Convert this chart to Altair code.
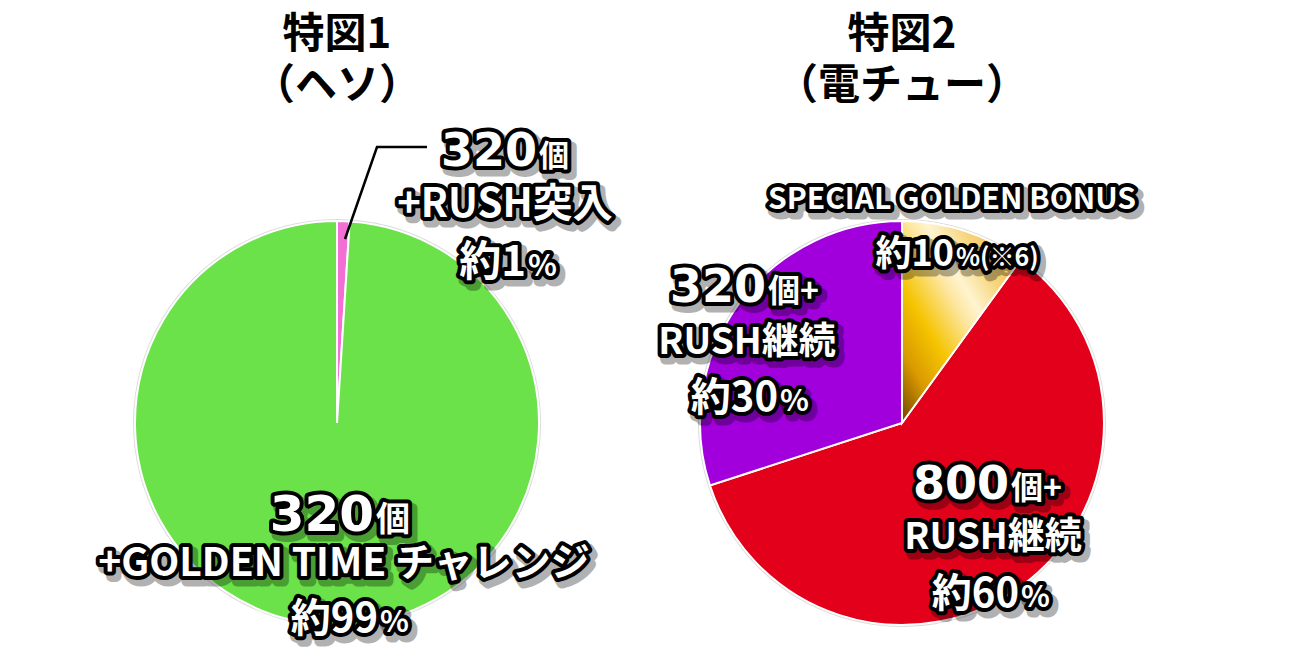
import math
import altair as alt
import pandas as pd

# ---------------- data ----------------
left_title = ["特図1", "（ヘソ）"]
left_categories = ["320個+RUSH突入", "320個+GOLDEN TIME チャレンジ"]
left_values = [1, 99]
left_colors = ["#f26fd3", "#6be249"]

right_title = ["特図2", "（電チュー）"]
right_categories = ["SPECIAL GOLDEN BONUS", "800個+RUSH継続", "320個+RUSH継続"]
right_values = [10, 60, 30]
right_colors = ["#f0c040", "#e3001b", "#a100dd"]

# label texts (big part / small suffix)
left_label_texts = [
    ["320", "個"], ["+RUSH突入"], ["約1", "%"],
    ["320", "個"], ["+GOLDEN TIME チャレンジ"], ["約99", "%"],
]
right_label_texts = [
    ["SPECIAL GOLDEN BONUS"], ["約10", "%(※6)"],
    ["320", "個+"], ["RUSH継続"], ["約30", "%"],
    ["800", "個+"], ["RUSH継続"], ["約60", "%"],
]

# ---------------- layout (offsets from pie centre, px) ----------------
# (x, y_baseline, kind_of_first, size_first, size_second)
left_label_layout = [
    (200, -257, "num", 46, 30), (168, -206, "line", 40, 0), (189, -147, "jp", 42, 30),
    (37, 108, "num", 50, 34), (7, 153, "line", 39, 0), (41, 209, "jp", 40, 30),
]
right_label_layout = [
    (50, -214, "line", 30, 0), (52, -157, "jp", 36, 25),
    (-136, -121, "num", 46, 32), (-155, -69, "line", 37, 0), (-124, -12, "jp", 40, 30),
    (107, 76, "num", 46, 32), (91, 126, "line", 37, 0), (117, 184, "jp", 40, 30),
]
left_leader = [(8, -184), (40, -276), (90, -276)]

W, H = 540, 540
X_DOMAIN = [-270, 270]
Y_DOMAIN = [-300, 240]
R = 202
JP = "Noto Sans CJK JP"
NUM = "DejaVu Sans"

KINDS = {
    "num": (NUM, "right"),
    "jp": (JP, "right"),
    "suffix": (JP, "left"),
    "line": (JP, "center"),
}

GOLD = {
    "gradient": "linear", "x1": 0, "y1": 1, "x2": 1, "y2": 0,
    "stops": [
        {"offset": 0.0, "color": "#6e4200"},
        {"offset": 0.18, "color": "#d99a00"},
        {"offset": 0.34, "color": "#f5c400"},
        {"offset": 0.52, "color": "#fde6a0"},
        {"offset": 0.6, "color": "#fff4d0"},
        {"offset": 0.74, "color": "#f6d47a"},
        {"offset": 1.0, "color": "#ecb434"},
    ],
}


def segments(texts, layout):
    rows = []
    for parts, (x, y, kind, s1, s2) in zip(texts, layout):
        rows.append({"text": parts[0], "x": x, "y": y, "size": s1, "kind": kind})
        if len(parts) > 1:
            rows.append({"text": parts[1], "x": x + 2, "y": y, "size": s2, "kind": "suffix"})
    return pd.DataFrame(rows)


xscale = alt.Scale(domain=X_DOMAIN, nice=False, zero=False)
yscale = alt.Scale(domain=Y_DOMAIN, nice=False, zero=False, reverse=True)
xs = alt.X("x:Q", scale=xscale, axis=None)
ys = alt.Y("y:Q", scale=yscale, axis=None)
cx = alt.XDatum(0, type="quantitative", scale=xscale, axis=None)
cy = alt.YDatum(0, type="quantitative", scale=yscale, axis=None)


def panel(categories, values, colors, title, texts, layout, leader=None, gradient_cat=None):
    df = pd.DataFrame({"category": categories, "value": values, "order": list(range(len(values)))})
    base = alt.Chart(df).transform_stack(
        stack="value", groupby=[], as_=["v0", "v1"], sort=[alt.SortField("order", order="ascending")]
    )
    th = alt.Theta("v0:Q", scale=alt.Scale(domain=[0, 100], range=[0, 2 * math.pi]))
    th2 = alt.Theta2("v1")
    layers = [
        base.mark_arc(outerRadius=R + 2, fill="#dcdcdc").encode(theta=th, theta2=th2, x=cx, y=cy),
        base.mark_arc(outerRadius=R, stroke="white", strokeWidth=2).encode(
            theta=th, theta2=th2, x=cx, y=cy,
            color=alt.Color("category:N", scale=alt.Scale(domain=categories, range=colors), legend=None),
        ),
    ]
    if gradient_cat is not None:
        layers.append(
            base.transform_filter(alt.datum.category == gradient_cat)
            .mark_arc(outerRadius=R, stroke="white", strokeWidth=2, fill=GOLD)
            .encode(theta=th, theta2=th2, x=cx, y=cy)
        )
    if leader is not None:
        ldf = pd.DataFrame({"x": [p[0] for p in leader], "y": [p[1] for p in leader], "i": list(range(len(leader)))})
        layers.append(alt.Chart(ldf).mark_line(color="black", strokeWidth=2.5).encode(x=xs, y=ys, order="i:O"))

    seg = segments(texts, layout)
    for style in ["shadow", "outline", "fill"]:
        for kind, (font, align) in KINDS.items():
            if not (seg["kind"] == kind).any():
                continue
            props = dict(font=font, fontWeight="bold", align=align, baseline="alphabetic")
            if style == "shadow":
                props.update(fill="black", stroke="black", strokeWidth=11, strokeJoin="round",
                             opacity=0.3, dx=4, dy=5)
            elif style == "outline":
                props.update(fill="black", stroke="black", strokeWidth=8, strokeJoin="round")
            else:
                props.update(fill="white")
            layers.append(
                alt.Chart(seg).transform_filter(alt.datum.kind == kind).mark_text(**props).encode(
                    x=xs, y=ys, text="text:N", size=alt.Size("size:Q", scale=None)
                )
            )
    return alt.layer(*layers).properties(
        width=W, height=H,
        title=alt.TitleParams(text=title, font=JP, fontSize=42, fontWeight="bold", lineHeight=51,
                              offset=15, anchor="middle", color="black", frame="group"),
    )


left = panel(left_categories, left_values, left_colors, left_title, left_label_texts, left_label_layout,
             leader=left_leader)
right = panel(right_categories, right_values, right_colors, right_title, right_label_texts, right_label_layout,
              gradient_cat=right_categories[0])

chart = (
    alt.hconcat(left, right, spacing=25, bounds="flush")
    .resolve_scale(color="independent", theta="independent", x="independent", y="independent")
    .properties(padding={"left": 59, "top": 6, "right": 5, "bottom": 2})
    .configure_view(stroke=None)
)

chart.save("out.html", embed_options={"renderer": "svg", "actions": False})
